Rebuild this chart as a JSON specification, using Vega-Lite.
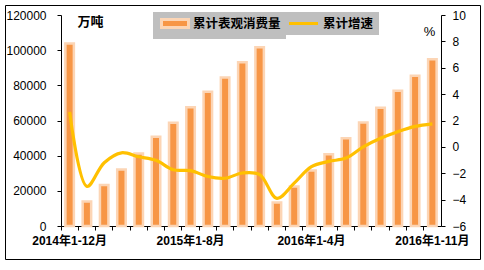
{
  "$schema": "https://vega.github.io/schema/vega-lite/v6.json",
  "autosize": {"type": "none"},
  "padding": {"left": 5, "top": 5, "right": 4, "bottom": 11},
  "width": 475,
  "height": 254,
  "background": "#ffffff",
  "config": {
    "view": {"stroke": "#000000", "strokeWidth": 1},
    "font": "Liberation Sans, Noto Sans CJK SC",
    "axis": {
      "labelFont": "Liberation Sans, Noto Sans CJK SC",
      "titleFont": "Liberation Sans, Noto Sans CJK SC",
      "labelColor": "#000000",
      "titleColor": "#000000",
      "domainColor": "#000000",
      "tickColor": "#000000",
      "grid": false,
      "labelFontSize": 12,
      "tickSize": 4
    },
    "legend": {
      "labelFont": "Liberation Sans, Noto Sans CJK SC",
      "labelFontSize": 12.5,
      "labelFontWeight": "bold",
      "labelColor": "#000000",
      "labelBaseline": "middle",
      "fillColor": "#BFBFBF",
      "padding": 5,
      "rowPadding": 0,
      "titlePadding": 0,
      "symbolSize": 100,
      "symbolStrokeWidth": 3,
      "orient": "none",
      "direction": "horizontal"
    }
  },
  "data": {
    "values": [
      {"month": "2014年1-12月", "consumption": 103800, "growth": 2.65},
      {"month": "2015年1-2月", "consumption": 14000, "growth": -3.0},
      {"month": "2015年1-3月", "consumption": 23300, "growth": -1.2},
      {"month": "2015年1-4月", "consumption": 32200, "growth": -0.45},
      {"month": "2015年1-5月", "consumption": 41300, "growth": -0.75},
      {"month": "2015年1-6月", "consumption": 50800, "growth": -1.02},
      {"month": "2015年1-7月", "consumption": 58700, "growth": -1.74},
      {"month": "2015年1-8月", "consumption": 67500, "growth": -1.8},
      {"month": "2015年1-9月", "consumption": 76400, "growth": -2.25},
      {"month": "2015年1-10月", "consumption": 84500, "growth": -2.38},
      {"month": "2015年1-11月", "consumption": 93100, "growth": -1.98},
      {"month": "2015年1-12月", "consumption": 101600, "growth": -2.1},
      {"month": "2016年1-2月", "consumption": 13300, "growth": -3.9},
      {"month": "2016年1-3月", "consumption": 22400, "growth": -2.75},
      {"month": "2016年1-4月", "consumption": 31500, "growth": -1.5},
      {"month": "2016年1-5月", "consumption": 40800, "growth": -1.1},
      {"month": "2016年1-6月", "consumption": 49900, "growth": -0.85},
      {"month": "2016年1-7月", "consumption": 58800, "growth": 0.0},
      {"month": "2016年1-8月", "consumption": 67300, "growth": 0.65},
      {"month": "2016年1-9月", "consumption": 76900, "growth": 1.15},
      {"month": "2016年1-10月", "consumption": 85500, "growth": 1.55},
      {"month": "2016年1-11月", "consumption": 94800, "growth": 1.75}
    ]
  },
  "encoding": {
    "x": {
      "field": "month",
      "type": "nominal",
      "sort": null,
      "scale": {"range": [56, 436], "paddingInner": 0, "paddingOuter": 0},
      "axis": {
        "orient": "bottom",
        "offset": -33,
        "title": null,
        "bandPosition": 0,
        "labelDx": 8.64,
        "labelAngle": 0,
        "labelAlign": "center",
        "labelOverlap": false,
        "labelFontWeight": "bold",
        "labelFontSize": 12,
        "labelPadding": 5,
        "labelExpr": "indexof(['2014年1-12月','2015年1-8月','2016年1-4月','2016年1-11月'], datum.value) >= 0 ? datum.value : ''"
      }
    }
  },
  "layer": [
    {
      "mark": {"type": "bar", "size": 8.5, "stroke": "#FCD5B5", "strokeWidth": 2.5},
      "encoding": {
        "y": {
          "field": "consumption",
          "type": "quantitative",
          "scale": {"domain": [0, 120000], "range": [221, 10], "nice": false, "zero": true},
          "axis": {
            "orient": "left",
            "offset": -56,
            "values": [0, 20000, 40000, 60000, 80000, 100000, 120000],
            "format": "d",
            "labelPadding": 11,
            "title": "万吨",
            "titleAngle": 0,
            "titleX": 29,
            "titleY": 16,
            "titleAlign": "center",
            "titleBaseline": "middle",
            "titleFontWeight": "bold",
            "titleFontSize": 13
          }
        },
        "fill": {
          "datum": "累计表观消费量",
          "scale": {"domain": ["累计表观消费量"], "range": ["#F79646"]},
          "legend": {
            "title": null,
            "legendX": 148,
            "legendY": 7,
            "symbolType": "M-2.7,-0.8H2.7V0.8H-2.7Z",
            "symbolOffset": 10.5,
            "labelOffset": 11.5,
            "symbolStrokeColor": "#FCD5B5",
            "symbolOpacity": 1
          }
        }
      }
    },
    {
      "mark": {"type": "line", "interpolate": "catmull-rom", "strokeWidth": 3.2},
      "encoding": {
        "y": {
          "field": "growth",
          "type": "quantitative",
          "scale": {"domain": [-6, 10], "range": [221, 10], "nice": false, "zero": false},
          "axis": {
            "orient": "right",
            "offset": -39,
            "values": [-6, -4, -2, 0, 2, 4, 6, 8, 10],
            "labelPadding": 7,
            "title": "%",
            "titleAngle": 0,
            "titleX": -12,
            "titleY": 26,
            "titleAlign": "center",
            "titleBaseline": "middle",
            "titleFontWeight": "normal",
            "titleFontSize": 13
          }
        },
        "stroke": {
          "datum": "累计增速",
          "scale": {"domain": ["累计增速"], "range": ["#FFC000"]},
          "legend": {
            "title": null,
            "legendX": 277,
            "legendY": 7,
            "symbolType": "M-2.9,0H2.9",
            "symbolOffset": 10,
            "labelOffset": 13,
            "symbolOpacity": 1
          }
        }
      }
    }
  ],
  "resolve": {"scale": {"y": "independent"}}
}
